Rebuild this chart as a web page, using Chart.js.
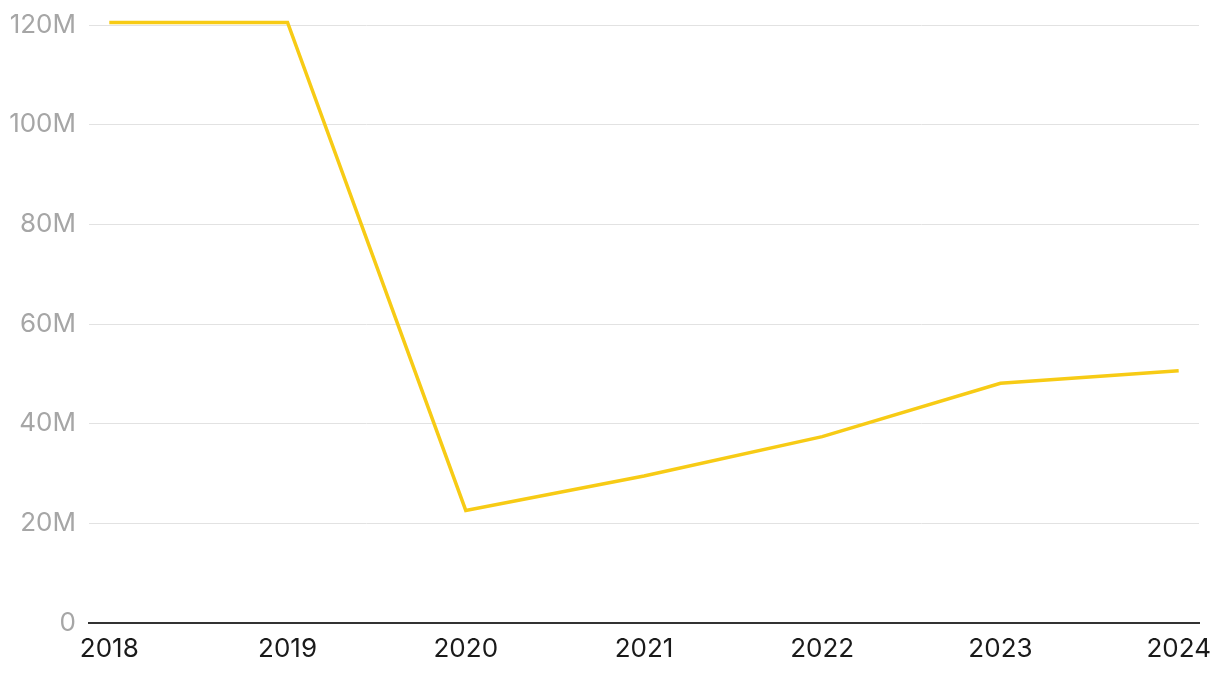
<!DOCTYPE html>
<html>
<head>
<meta charset="utf-8">
<script src="https://cdn.jsdelivr.net/npm/chart.js@4/dist/chart.umd.min.js"></script>
<style>
  html, body { margin: 0; padding: 0; background: #fff; }
  #wrap { width: 1220px; height: 678px; position: relative; }
</style>
</head>
<body>
<div id="wrap"><canvas id="chart"></canvas></div>
<script>
// data
const years = [2018, 2019, 2020, 2021, 2022, 2023, 2024];
const values = [120.5e6, 120.5e6, 22.6e6, 29.5e6, 37.4e6, 48.1e6, 50.6e6];
const yTicks = [0, 20e6, 40e6, 60e6, 80e6, 100e6, 120e6];

const points = years.map((y, i) => ({ x: y, y: values[i] }));

new Chart(document.getElementById('chart'), {
    type: 'line',
    data: {
        datasets: [{
            data: points,
            borderColor: '#f7cb15',
            borderWidth: 3.5,
            pointRadius: 0,
            fill: false,
            tension: 0,
            clip: false
        }]
    },
    options: {
        responsive: true,
        maintainAspectRatio: false,
        animation: false,
        layout: { padding: { top: 25, right: 21, left: 0, bottom: 0 } },
        plugins: {
            legend: { display: false },
            tooltip: { enabled: false }
        },
        scales: {
            x: {
                type: 'linear',
                min: 2017.886,
                max: 2024.114,
                grid: { display: false, drawTicks: false },
                border: { display: true, color: '#333333', width: 2 },
                afterBuildTicks: (scale) => {
                    scale.ticks = years.map(v => ({ value: v }));
                },
                ticks: {
                    autoSkip: false,
                    maxRotation: 0,
                    padding: 11,
                    color: '#1a1a1a',
                    font: { family: 'Inter', size: 26 },
                    callback: (v) => String(v)
                },
                afterFit: (scale) => {
                    scale.height = 55;
                    // labels may overflow the edges, keep the plot area fixed
                    scale.paddingLeft = 0;
                    scale.paddingRight = 0;
                }
            },
            y: {
                min: 0,
                max: 120e6,
                grid: { color: '#e2e2e2', lineWidth: 1, drawTicks: false },
                border: { display: false },
                afterBuildTicks: (scale) => {
                    scale.ticks = yTicks.map(v => ({ value: v }));
                },
                ticks: {
                    padding: 13,
                    color: '#a6a6a6',
                    font: { family: 'Inter', size: 26 },
                    callback: (v) => v === 0 ? '0' : (v / 1e6) + 'M'
                },
                afterFit: (scale) => {
                    scale.width = 89;
                    scale.paddingTop = 0;
                    scale.paddingBottom = 0;
                }
            }
        }
    }
});
</script>
</body>
</html>
